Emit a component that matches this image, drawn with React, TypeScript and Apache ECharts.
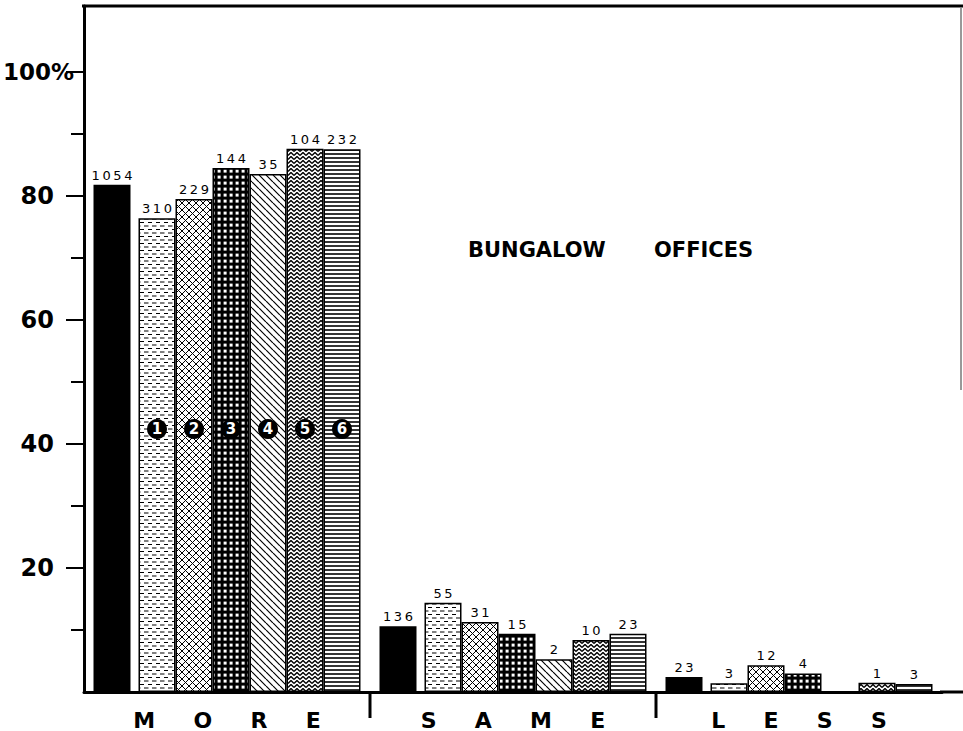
import React, { useEffect, useRef } from 'react';
import * as echarts from 'echarts';

// ---- data ----
const categories = ['MORE', 'SAME', 'LESS'];

// percentages (bar heights)
const allOffices = [81.8, 10.6, 2.4];
const office1 = [76.4, 14.4, 1.4];
const office2 = [79.5, 11.3, 4.3];
const office3 = [84.5, 9.4, 3.0];
const office4 = [83.5, 5.3, null];
const office5 = [87.6, 8.4, 1.5];
const office6 = [87.5, 9.4, 1.3];

// counts printed above bars
const allCounts = [1054, 136, 23];
const counts1 = [310, 55, 3];
const counts2 = [229, 31, 12];
const counts3 = [144, 15, 4];
const counts4 = [35, 2, null];
const counts5 = [104, 10, 1];
const counts6 = [232, 23, 3];

const yTickLabels = [20, 40, 60, 80, 100];
const yMinorTicks = [10, 30, 50, 70, 90];
const markerNumbers = ['1', '2', '3', '4', '5', '6'];
const markerLevel = [44.0, null, null];

const FONT = 'DejaVu Sans';

function tile(w: number, h: number, draw: (ctx: CanvasRenderingContext2D) => void) {
  const c = document.createElement('canvas');
  c.width = w;
  c.height = h;
  const ctx = c.getContext('2d')!;
  ctx.fillStyle = '#fff';
  ctx.fillRect(0, 0, w, h);
  ctx.strokeStyle = '#000';
  ctx.fillStyle = '#000';
  draw(ctx);
  return c;
}

function makePatterns() {
  const dashes = tile(8, 7, (ctx) => {
    ctx.lineWidth = 1.2;
    ctx.beginPath();
    ctx.moveTo(0, 2); ctx.lineTo(4.5, 2);
    ctx.moveTo(4, 5.5); ctx.lineTo(8.5, 5.5);
    ctx.stroke();
  });
  const cross = tile(7, 7, (ctx) => {
    ctx.lineWidth = 1;
    ctx.beginPath();
    for (const k of [-7, 0, 7]) {
      ctx.moveTo(k, 0); ctx.lineTo(k + 7, 7);
      ctx.moveTo(k + 7, 0); ctx.lineTo(k, 7);
    }
    ctx.stroke();
  });
  const grid = tile(6, 6, (ctx) => {
    ctx.fillRect(0, 0, 6, 6);
    ctx.fillStyle = '#fff';
    ctx.fillRect(1.6, 1.6, 3, 3);
  });
  const diag = tile(7, 7, (ctx) => {
    ctx.lineWidth = 1.2;
    ctx.beginPath();
    for (const k of [-7, 0, 7]) {
      ctx.moveTo(k, 0); ctx.lineTo(k + 7, 7);
    }
    ctx.stroke();
  });
  const zig = tile(6, 4, (ctx) => {
    ctx.lineWidth = 1.4;
    ctx.beginPath();
    ctx.moveTo(0, 3.5); ctx.lineTo(3, 0.5); ctx.lineTo(6, 3.5);
    ctx.stroke();
  });
  const horiz = tile(4, 4, (ctx) => {
    ctx.lineWidth = 1.6;
    ctx.beginPath();
    ctx.moveTo(0, 2); ctx.lineTo(4, 2);
    ctx.stroke();
  });
  return [dashes, cross, grid, diag, zig, horiz].map((c) => ({
    image: c,
    repeat: 'repeat',
    imageWidth: c.width,
    imageHeight: c.height,
  }));
}

const spaced = (n: number | null) => (n == null ? '' : String(n).split('').join('\u2009'));

export default function App() {
  const ref = useRef<HTMLDivElement>(null);
  useEffect(() => {
    const chart = echarts.init(ref.current!, null, { renderer: 'svg' });
    const patterns = makePatterns();
    const officeData = [office1, office2, office3, office4, office5, office6];
    const officeCounts = [counts1, counts2, counts3, counts4, counts5, counts6];

    const labelBase = {
      show: true,
      position: 'top',
      distance: 3,
      color: '#000',
      fontSize: 13,
      fontFamily: FONT,
    };

    const barSeries: any[] = [
      {
        name: 'All offices',
        type: 'bar',
        barGap: '0%',
        barWidth: 37,
        data: allOffices,
        itemStyle: { color: '#000', borderColor: '#000', borderWidth: 1.5 },
        label: { ...labelBase, formatter: (p: any) => spaced(allCounts[p.dataIndex]) },
      },
      {
        name: 'gap',
        type: 'bar',
        barGap: '0%',
        barWidth: 8,
        data: ['-', '-', '-'],
      },
      ...officeData.map((d, i) => ({
        name: 'Office ' + (i + 1),
        type: 'bar',
        barGap: '0%',
        barWidth: 37,
        data: d,
        itemStyle: { color: patterns[i], borderColor: '#000', borderWidth: 1.5 },
        label: { ...labelBase, formatter: (p: any) => spaced(officeCounts[i][p.dataIndex]) },
      })),
    ];

    const markerSeries: any[] = [
      { type: 'pictorialBar', barGap: '0%', barWidth: 37, data: ['-', '-', '-'], symbol: 'circle', silent: true },
      { type: 'pictorialBar', barGap: '0%', barWidth: 8, data: ['-', '-', '-'], symbol: 'circle', silent: true },
      ...markerNumbers.map((num) => ({
        type: 'pictorialBar',
        barGap: '0%',
        barWidth: 37,
        z: 10,
        silent: true,
        symbol: 'circle',
        symbolSize: [20, 20],
        symbolPosition: 'end',
        itemStyle: { color: '#000' },
        data: markerLevel.map((v) => (v == null ? '-' : v)),
        label: {
          show: true,
          position: 'insideTop',
          distance: 0,
          formatter: num,
          color: '#fff',
          fontSize: 15,
          fontWeight: 'bold',
          fontFamily: FONT,
          lineHeight: 20,
        },
      })),
    ];

    const option: any = {
      animation: false,
      backgroundColor: '#fff',
      grid: { left: 84, right: 21, top: 6, bottom: 39, containLabel: false, outerBoundsMode: 'none' },
      xAxis: {
        type: 'category',
        data: categories,
        axisLine: { show: true, lineStyle: { color: '#000', width: 3 } },
        axisTick: { show: false },
        axisLabel: {
          margin: 17,
          fontSize: 22,
          fontWeight: 'bold',
          color: '#000',
          fontFamily: FONT,
          formatter: (v: string) => v.split('').join('     '),
        },
        splitLine: { show: false },
      },
      yAxis: [
        {
          type: 'value',
          min: 0,
          max: 110.6,
          axisLine: { show: true, lineStyle: { color: '#000', width: 3 } },
          axisTick: { show: true, customValues: yTickLabels, length: 18, lineStyle: { color: '#000', width: 2 } },
          axisLabel: {
            customValues: yTickLabels,
            margin: 10,
            color: '#000',
            fontSize: 24,
            fontWeight: 'bold',
            fontFamily: FONT,
            formatter: (v: number) => (v === 100 ? '{a|100%}' : '{b|' + v + '}'),
            rich: {
              a: { fontSize: 23, fontWeight: 'bold', fontFamily: FONT, color: '#000' },
              b: { fontSize: 24, fontWeight: 'bold', fontFamily: FONT, color: '#000', padding: [0, 20, 0, 0] },
            },
          },
          splitLine: { show: false },
        },
        {
          type: 'value',
          min: 0,
          max: 110.6,
          position: 'left',
          axisLine: { show: false },
          axisTick: { show: true, customValues: yMinorTicks, length: 13, lineStyle: { color: '#000', width: 2 } },
          axisLabel: { show: false },
          splitLine: { show: false },
        },
      ],
      series: [...barSeries, ...markerSeries],
      graphic: [
        { id: 'top', type: 'line', shape: { x1: 82, y1: 6, x2: 963, y2: 6 }, style: { stroke: '#000', lineWidth: 3 } },
        { id: 'right', type: 'line', shape: { x1: 961, y1: 8, x2: 961, y2: 390 }, style: { stroke: '#777', lineWidth: 1.5 } },
        {
          id: 't1', type: 'text', x: 468, y: 239,
          style: { text: 'BUNGALOW', fontSize: 21, fontWeight: 'bold', fontFamily: FONT, fill: '#000' },
        },
        {
          id: 't2', type: 'text', x: 654, y: 239,
          style: { text: 'OFFICES', fontSize: 21, fontWeight: 'bold', fontFamily: FONT, fill: '#000' },
        },
      ],
    };
    chart.setOption(option);

    // separators below the axis at category boundaries, and the baseline extension
    const cx = categories.map((c) => chart.convertToPixel({ xAxisIndex: 0 }, c) as number);
    const y0 = chart.convertToPixel({ yAxisIndex: 0 }, 0) as number;
    const b1 = (cx[0] + cx[1]) / 2;
    const b2 = (cx[1] + cx[2]) / 2;
    const lastEdge = cx[2] + (cx[2] - cx[1]) / 2;
    chart.setOption({
      graphic: [
        { id: 's1', type: 'line', shape: { x1: b1, y1: y0, x2: b1, y2: y0 + 26 }, style: { stroke: '#000', lineWidth: 3 } },
        { id: 's2', type: 'line', shape: { x1: b2, y1: y0, x2: b2, y2: y0 + 26 }, style: { stroke: '#000', lineWidth: 3 } },
        { id: 'base', type: 'line', shape: { x1: lastEdge - 2, y1: y0, x2: 963, y2: y0 }, style: { stroke: '#000', lineWidth: 3 } },
      ],
    });

    return () => chart.dispose();
  }, []);
  return <div ref={ref} style={{ position: 'fixed', left: 0, top: 0, width: 963, height: 731, background: '#fff' }} />;
}
